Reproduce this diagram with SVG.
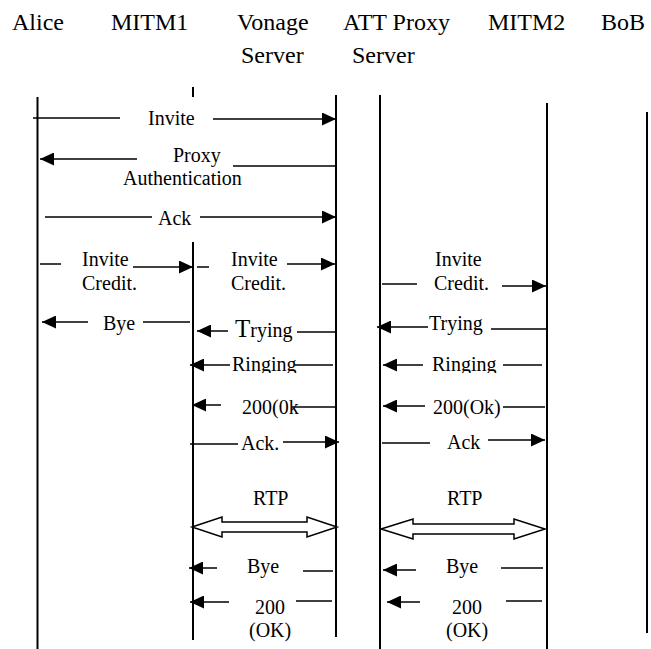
<svg xmlns="http://www.w3.org/2000/svg" width="651" height="649" viewBox="0 0 651 649">
<style>
text{font-family:"Liberation Serif","Times New Roman",serif;fill:#000}
.h{font-size:24px}
.t{font-size:20px}
.life{stroke:#000;stroke-width:2;fill:none}
.m{stroke:#000;stroke-width:1.5;fill:none}
.a{stroke:#000;stroke-width:1.5;fill:none;marker-end:url(#ah)}
.rtp{stroke:#000;stroke-width:1.5;fill:#fff;stroke-linejoin:miter}
</style>
<defs>
<marker id="ah" markerUnits="userSpaceOnUse" markerWidth="15" markerHeight="13" refX="14" refY="6.5" orient="auto">
<path d="M0,0 L14,6.5 L0,13 Z" fill="#000"/>
</marker>
<clipPath id="clipRing"><rect x="0" y="340" width="651" height="33"/></clipPath>
</defs>
<rect width="651" height="649" fill="#fff"/>

<g id="alice">
<text class="h" x="12" y="30">Alice</text>
<line class="life" x1="37.5" y1="97" x2="37.5" y2="649"/>
</g>
<g id="mitm1">
<text class="h" x="111" y="30">MITM1</text>
<line class="life" x1="193" y1="87" x2="193" y2="97"/>
<line class="life" x1="193" y1="242" x2="193" y2="640"/>
</g>
<g id="vonage">
<text class="h" x="237" y="30">Vonage</text>
<text class="h" x="241" y="63">Server</text>
<line class="life" x1="336" y1="95" x2="336" y2="637"/>
</g>
<g id="att">
<text class="h" x="343" y="30">ATT Proxy</text>
<text class="h" x="352" y="63">Server</text>
<line class="life" x1="380" y1="95" x2="380" y2="649"/>
</g>
<g id="mitm2">
<text class="h" x="488" y="30">MITM2</text>
<line class="life" x1="547" y1="103" x2="547" y2="649"/>
</g>
<g id="bob">
<text class="h" x="601" y="30">BoB</text>
<line class="life" x1="647" y1="112" x2="647" y2="633"/>
</g>

<g id="connectors">
<line class="m" x1="33" y1="118" x2="120" y2="118"/>
<line class="a" x1="213" y1="119" x2="336" y2="119"/>
<text class="t" x="148" y="125">Invite</text>

<line class="a" x1="137" y1="159" x2="40" y2="159"/>
<line class="m" x1="233" y1="166" x2="336" y2="166"/>
<text class="t" x="173" y="162">Proxy</text>
<text class="t" x="123" y="185">Authentication</text>

<line class="m" x1="45" y1="217" x2="152" y2="217"/>
<line class="a" x1="200" y1="217" x2="336" y2="217"/>
<text class="t" x="158" y="225">Ack</text>

<line class="m" x1="40" y1="264" x2="61" y2="264"/>
<line class="a" x1="133" y1="267" x2="193" y2="267"/>
<text class="t" x="82" y="266">Invite</text>
<text class="t" x="82" y="290">Credit.</text>

<line class="m" x1="197" y1="267" x2="209" y2="267"/>
<line class="a" x1="287" y1="264" x2="335" y2="264"/>
<text class="t" x="231" y="266">Invite</text>
<text class="t" x="231" y="290">Credit.</text>

<line class="m" x1="382" y1="284" x2="417" y2="284"/>
<line class="a" x1="502" y1="286" x2="546" y2="286"/>
<text class="t" x="435" y="266">Invite</text>
<text class="t" x="434" y="290">Credit.</text>

<line class="a" x1="88" y1="322" x2="42" y2="322"/>
<line class="m" x1="143" y1="322" x2="190" y2="322"/>
<text class="t" x="103" y="330">Bye</text>

<line class="a" x1="228" y1="331" x2="197" y2="331"/>
<line class="m" x1="297" y1="332" x2="335" y2="332"/>
<text class="t" x="235" y="337"><tspan font-size="25">T</tspan>rying</text>

<line class="a" x1="428" y1="327" x2="377" y2="327"/>
<line class="m" x1="491" y1="329" x2="548" y2="329"/>
<text class="t" x="429" y="330">Trying</text>

<line class="a" x1="230" y1="365" x2="190" y2="365"/>
<line class="m" x1="295" y1="365" x2="333" y2="365"/>
<text class="t" x="232" y="371" clip-path="url(#clipRing)">Ringing</text>

<line class="a" x1="423" y1="365" x2="383" y2="365"/>
<line class="m" x1="503" y1="365" x2="542" y2="365"/>
<text class="t" x="432" y="371" clip-path="url(#clipRing)">Ringing</text>

<line class="a" x1="221" y1="405" x2="192" y2="405"/>
<line class="m" x1="292" y1="407" x2="336" y2="407"/>
<text class="t" x="242" y="414">200(0k</text>

<line class="a" x1="425" y1="406" x2="383" y2="406"/>
<line class="m" x1="503" y1="407" x2="545" y2="407"/>
<text class="t" x="433" y="414">200(Ok)</text>

<line class="m" x1="190" y1="444" x2="238" y2="444"/>
<line class="a" x1="283" y1="442" x2="339" y2="442"/>
<text class="t" x="241" y="450">Ack.</text>

<line class="m" x1="382" y1="443" x2="430" y2="443"/>
<line class="a" x1="488" y1="440" x2="545" y2="440"/>
<text class="t" x="447" y="449">Ack</text>

<text class="t" x="253" y="505">RTP</text>
<polygon class="rtp" points="192,527 222,517 222,522 307,522 307,517 337,527 307,537 307,532 222,532 222,537"/>
<text class="t" x="447" y="505">RTP</text>
<polygon class="rtp" points="381,529 413,519 413,524 514,524 514,519 545,529 514,539 514,534 413,534 413,539"/>

<line class="a" x1="217" y1="568" x2="189" y2="568"/>
<line class="m" x1="303" y1="571" x2="333" y2="571"/>
<text class="t" x="247" y="573">Bye</text>

<line class="a" x1="416" y1="570" x2="383" y2="570"/>
<line class="m" x1="501" y1="568" x2="543" y2="568"/>
<text class="t" x="446" y="573">Bye</text>

<line class="a" x1="229" y1="602" x2="190" y2="602"/>
<line class="m" x1="296" y1="601" x2="332" y2="601"/>
<text class="t" x="255" y="614">200</text>
<text class="t" x="249" y="637">(OK)</text>

<line class="a" x1="420" y1="602" x2="387" y2="602"/>
<line class="m" x1="506" y1="601" x2="542" y2="601"/>
<text class="t" x="452" y="614">200</text>
<text class="t" x="446" y="637">(OK)</text>
</g>
</svg>
